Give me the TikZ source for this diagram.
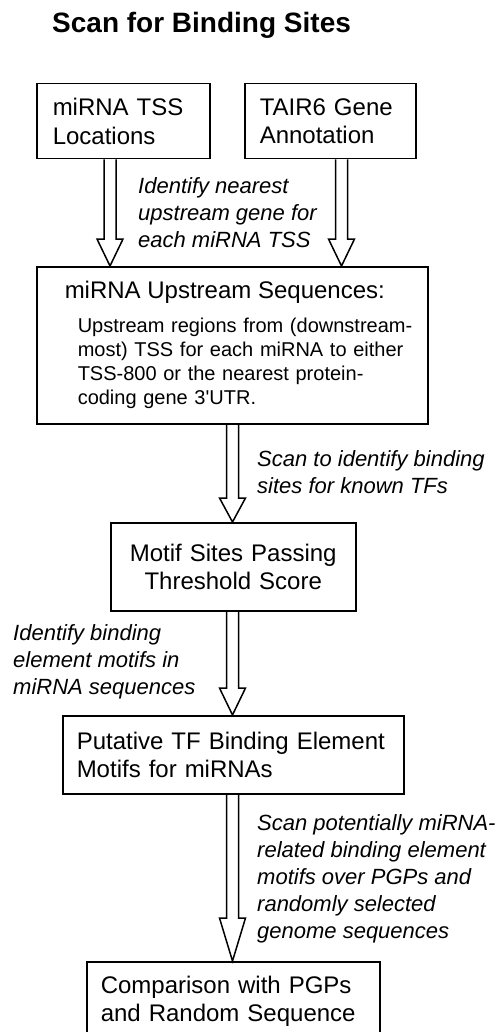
\documentclass[tikz,border=0pt]{standalone}
\usepackage{fontspec}
\setmainfont{Liberation Sans}
\usetikzlibrary{calc}

\tikzset{
  box/.style={draw, line width=1.5pt, anchor=north west, inner ysep=0pt, align=left,
    font=\fontsize{24}{28.5}\selectfont},
  note/.style={anchor=north west, inner sep=0pt, align=left,
    font=\fontsize{22}{27}\selectfont\itshape},
  blockarrow/.style={line width=1.5pt, line join=miter},
}

% hollow block arrow: start, tip, head length
\newcommand{\blockarrow}[3]{%
  \draw[blockarrow] ($(#1)+(-\sw,0)$) -- ($(#2)+(-\sw,-#3)$) -- ($(#2)+(-\hw,-#3)$) -- (#2)
    -- ($(#2)+(\hw,-#3)$) -- ($(#2)+(\sw,-#3)$) -- ($(#1)+(\sw,0)$);
}

\begin{document}
\begin{tikzpicture}[x=1pt, y=-1pt]
  % Define sizes of the block arrows
  \def\sw{6}   % half shaft width
  \def\hw{13}  % half head width
  \useasboundingbox (0,0) rectangle (495,1032);
  \clip (0,0) rectangle (495,1032);

  % --- Title ---
  \node[anchor=base west, inner sep=0pt, font=\fontsize{28}{32}\selectfont\bfseries] (title) at (52,33) {Scan for Binding Sites};

  % --- Inputs ---
  \node[box, minimum height=75pt, inner xsep=16pt, text width=141pt] (tss) at (36,83) {miRNA TSS\\Locations};
  \node[box, minimum height=75pt, inner xsep=15pt, text width=141pt] (tair) at (244,83) {TAIR6 Gene\\Annotation};

  % --- Upstream sequences ---
  \node[box, minimum height=157pt, inner xsep=10pt, text width=371pt, font=\fontsize{20}{24}\selectfont] (upseq) at (36,266)
    {{\fontsize{24}{28}\selectfont\hspace*{18pt}miRNA Upstream Sequences:}\\[10pt]
     \hspace*{31pt}Upstream regions from (downstream-\\
     \hspace*{31pt}most) TSS for each miRNA to either\\
     \hspace*{31pt}TSS-800 or the nearest protein-\\
     \hspace*{31pt}coding gene 3\textquotesingle UTR.};

  % --- Motif sites, putative motifs, comparison ---
  \node[box, align=center, minimum height=88pt, inner xsep=14pt, text width=217pt] (motif) at (110,522) {Motif Sites Passing\\Threshold Score};
  \node[box, minimum height=78pt, inner xsep=14pt, text width=313pt] (putative) at (62,715) {Putative TF Binding Element\\Motifs for miRNAs};
  % bottom edge runs off the page
  \node[box, inner ysep=14pt, inner xsep=14pt, text width=265pt] (compare) at (86,961) {Comparison with PGPs\\and Random Sequence};

  % --- Arrow columns ---
  \coordinate (colA) at (110,0);
  \coordinate (colB) at (341.5,0);
  \coordinate (colC) at (232.5,0);

  \blockarrow{tss.south -| colA}{upseq.north -| colA}{27}
  \blockarrow{tair.south -| colB}{upseq.north -| colB}{27}
  \blockarrow{upseq.south -| colC}{motif.north -| colC}{24}
  \blockarrow{motif.south -| colC}{putative.north -| colC}{27}
  \blockarrow{putative.south -| colC}{compare.north -| colC}{43}

  % --- Step notes ---
  \node[note] (nearest) at (138,177) {Identify nearest\\upstream gene for\\each miRNA TSS};
  \node[note] (scantf) at (257,450) {Scan to identify binding\\sites for known TFs};
  \node[note] (identify) at (13,624) {Identify binding\\element motifs in\\miRNA sequences};
  \node[note] (scanpgp) at (257,814) {Scan potentially miRNA-\\related binding element\\motifs over PGPs and\\randomly selected\\genome sequences};
\end{tikzpicture}
\end{document}
